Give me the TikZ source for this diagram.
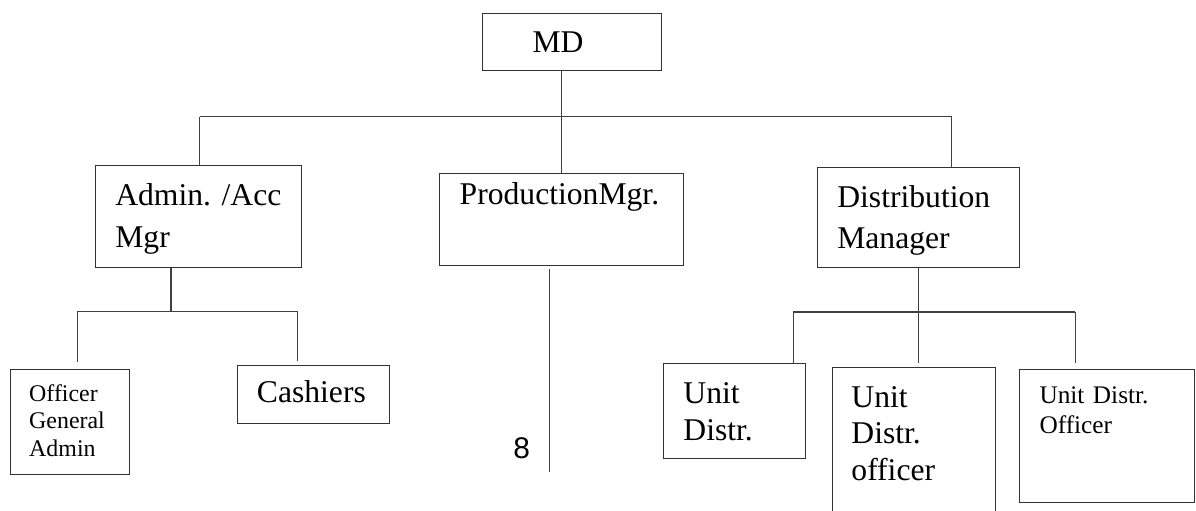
\documentclass[tikz,border=0pt]{standalone}
\usepackage{fontspec}
\setmainfont{Liberation Serif}
\newfontfamily\pagenofont{Liberation Sans}
\usepackage{tikz}

\begin{document}
\begin{tikzpicture}[
    post/.style={rectangle, draw=black!80, line width=0.6pt, anchor=north west,
                 align=left, inner ysep=0pt, font=\fontsize{18}{23.7}\selectfont},
    unit/.style={post, font=\fontsize{18}{21}\selectfont},
    small/.style={post, font=\fontsize{13.6}{15.6}\selectfont},
    link/.style={line width=0.6pt, draw=black!75}
]
\useasboundingbox (0,0) rectangle (23.92,10.22);

% top and managers
\node[post, inner xsep=1cm, text width=1.58cm, text height=0.774cm, text depth=0.366cm]
    (md) at (9.64,9.96) {MD};
\node[post, inner xsep=0.39cm, text width=3.33cm, text height=0.8cm, text depth=1.234cm]
    (admin) at (1.906,6.92) {Admin.~/Acc\\Mgr};
\node[post, inner xsep=0.398cm, text width=4.068cm, text height=0.614cm, text depth=1.22cm]
    (prod) at (8.786,6.754) {ProductionMgr.};
\node[post, inner xsep=0.388cm, text width=3.252cm, text height=0.788cm, text depth=1.2cm]
    (dist) at (16.348,6.874) {Distribution\\Manager};

% staff
\node[small, inner xsep=0.382cm, text width=1.624cm, text height=0.628cm, text depth=1.472cm]
    (officer) at (0.192,2.834) {Officer\\General\\Admin};
\node[post, inner xsep=0.382cm, text width=2.274cm, text height=0.728cm, text depth=0.432cm]
    (cash) at (4.746,2.914) {Cashiers};
\node[unit, inner xsep=0.404cm, text width=2.028cm, text height=0.788cm, text depth=1.112cm]
    (ud1) at (13.254,2.954) {Unit\\Distr.};
\node[unit, font=\fontsize{18}{20.9}\selectfont, inner xsep=0.388cm, text width=2.484cm,
      text height=0.788cm, text depth=2.4cm]
    (ud2) at (16.63,2.874) {Unit\\Distr.\\officer};
\node[small, font=\fontsize{14.4}{17}\selectfont, inner xsep=0.394cm, text width=2.7cm,
      text height=0.68cm, text depth=1.968cm]
    (ud3) at (20.386,2.834) {Unit~Distr.\\Officer};

\node[font=\pagenofont\fontsize{17}{20}\selectfont, anchor=base west, inner sep=0pt]
    (pageno) at (10.26,1.054) {8};

% first level
\coordinate (barL) at (3.99,7.886);
\coordinate (barR) at (19.03,7.886);
\draw[link] (barL) -- (barR);
\draw[link] (prod.north |- md.south) -- (prod.north |- barL);
\draw[link] (barL) -- (barL |- admin.north);
\draw[link] (prod.north |- barL) -- (prod.north);
\draw[link] (barR) -- (barR |- dist.north);

% admin branch
\coordinate (aL) at (1.554,3.99);
\coordinate (aR) at (5.948,3.99);
\coordinate (aD) at (3.42,3.99);
\draw[link] (aL) -- (aR);
\draw[link] (admin.south -| aD) -- (aD);
\draw[link, shorten >=0.14cm] (aL) -- (aL |- officer.north);
\draw[link, shorten >=0.09cm] (aR) -- (aR |- cash.north);

% distribution branch
\coordinate (dL) at (15.862,3.98);
\coordinate (dR) at (21.502,3.98);
\draw[link] (dL) -- (dR);
\draw[link] (dist.south) -- (dist.south |- dL);
\draw[link] (dL) -- (dL |- ud1.north);
\draw[link, shorten >=0.09cm] (dist.south |- dL) -- (dist.south |- ud2.north);
\draw[link, shorten >=0.13cm] (dR) -- (dR |- ud3.north);

% production line
\coordinate (pend) at (10.984,0.774);
\draw[link, shorten <=0.06cm] (prod.south -| pend) -- (pend);

\end{tikzpicture}
\end{document}
